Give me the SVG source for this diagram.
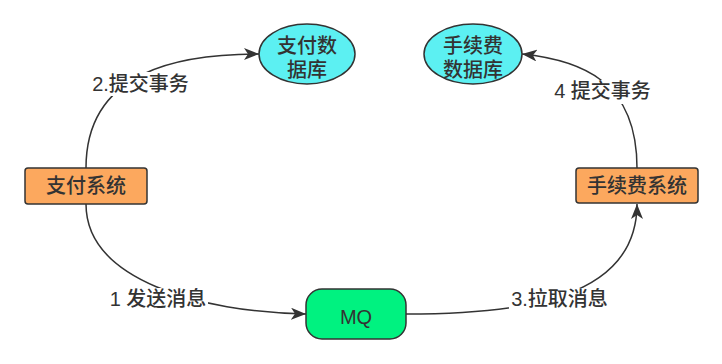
<svg xmlns="http://www.w3.org/2000/svg" width="722" height="364" viewBox="0 0 722 364">
<defs>
<marker id="arr" markerUnits="userSpaceOnUse" markerWidth="16" markerHeight="12" refX="15" refY="6" orient="auto">
<path d="M0,0 L15,6 L0,12 L4,6 Z" fill="#333"/>
</marker>
<style>
.t{font-family:"Liberation Sans","Noto Sans CJK SC",sans-serif;font-size:20px;font-weight:500;fill:#333;text-anchor:middle}
.sys{fill:#FCA85E;stroke:#333;stroke-width:1.5}
.db{fill:#5CF0F2;stroke:#333;stroke-width:1.5}
.mq{fill:#00F280;stroke:#333;stroke-width:1.5}
.edge{fill:none;stroke:#333;stroke-width:1.5}
.bg{fill:#fff}
</style>
</defs>
<rect width="722" height="364" fill="#fff"/>
<g id="connectors">
<path class="edge" d="M86 168 C86 70, 180 54, 259 54" marker-end="url(#arr)"/>
<path class="edge" d="M86 204 C86 280, 200 312, 306 314" marker-end="url(#arr)"/>
<path class="edge" d="M406 314 C520 314, 637 300, 637 204" marker-end="url(#arr)"/>
<path class="edge" d="M637 168 C637 80, 580 60, 522 54" marker-end="url(#arr)"/>
<rect class="bg" x="90" y="72" width="101" height="24"/>
<text class="t" x="140.5" y="91">2.提交事务</text>
<rect class="bg" x="108" y="288" width="100" height="24"/>
<text class="t" x="158" y="306">1 发送消息</text>
<rect class="bg" x="509" y="288" width="101" height="24"/>
<text class="t" x="559.5" y="306">3.拉取消息</text>
<rect class="bg" x="551" y="80" width="103" height="24"/>
<text class="t" x="602.5" y="98">4 提交事务</text>
</g>
<g id="pay-system">
<rect class="sys" x="25" y="168" width="122" height="36" rx="3"/>
<text class="t" x="86" y="193">支付系统</text>
</g>
<g id="pay-db">
<ellipse class="db" cx="307" cy="54" rx="48" ry="30"/>
<text class="t" x="307" y="53">支付数</text>
<text class="t" x="307" y="77">据库</text>
</g>
<g id="fee-db">
<ellipse class="db" cx="473" cy="54" rx="49" ry="30"/>
<text class="t" x="473" y="53">手续费</text>
<text class="t" x="473" y="77">数据库</text>
</g>
<g id="fee-system">
<rect class="sys" x="576" y="168" width="122" height="35" rx="3"/>
<text class="t" x="637" y="193">手续费系统</text>
</g>
<g id="mq">
<rect class="mq" x="306" y="289" width="100" height="50" rx="16"/>
<text class="t" x="356" y="324">MQ</text>
</g>
</svg>
